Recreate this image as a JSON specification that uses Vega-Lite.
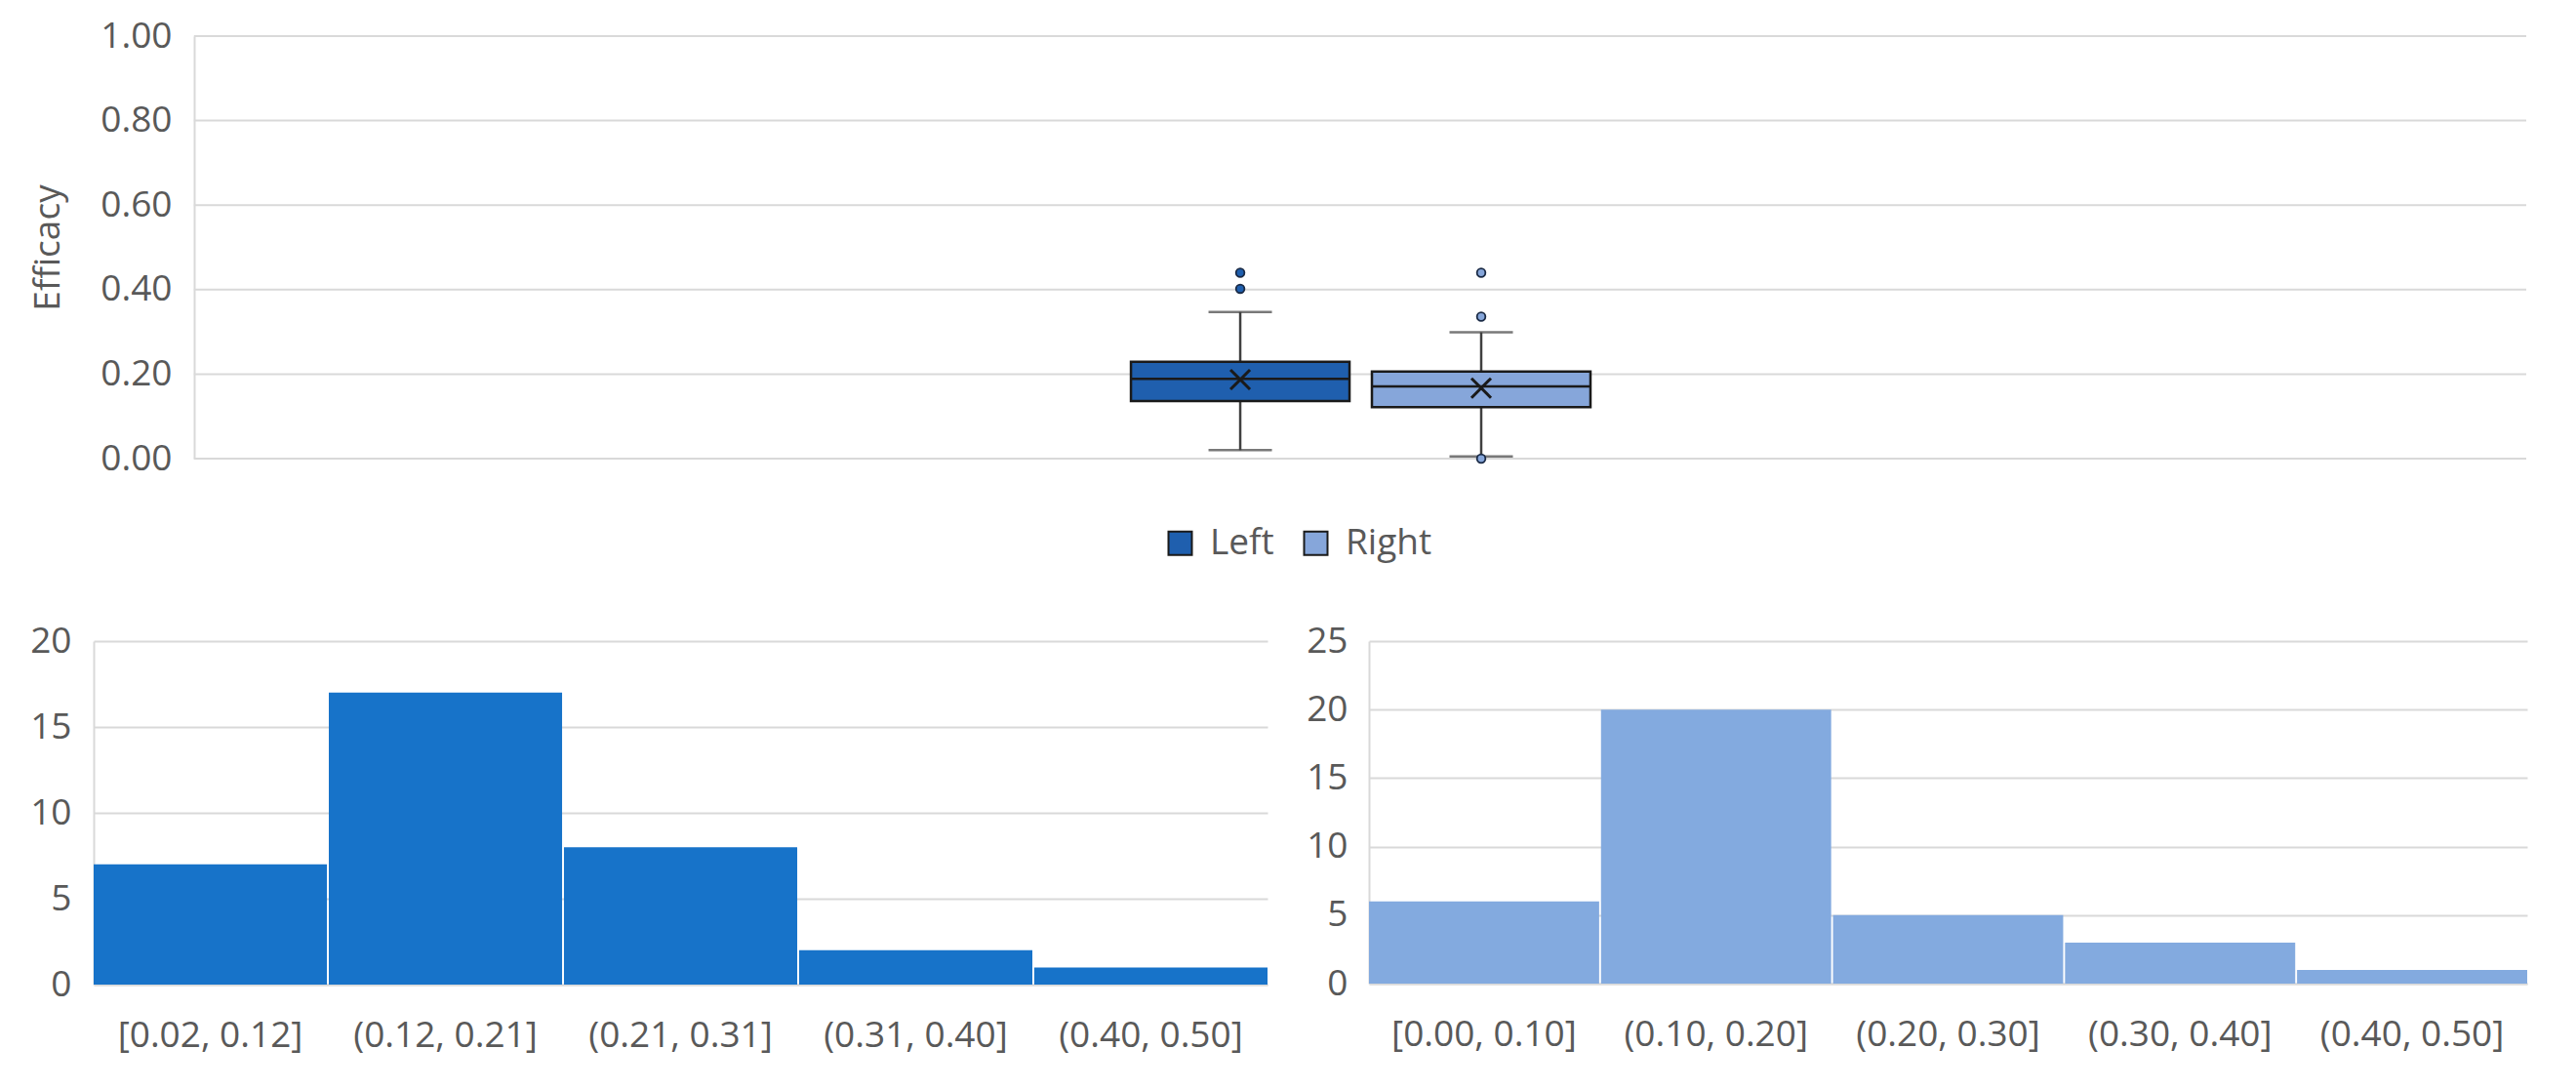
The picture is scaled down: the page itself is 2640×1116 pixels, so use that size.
{
  "$schema": "https://vega.github.io/schema/vega-lite/v6.json",
  "background": "white",
  "padding": {"left": 30, "top": 18, "right": 52, "bottom": 30},
  "spacing": 150,
  "config": {
    "view": {"stroke": null},
    "font": "Open Sans",
    "axis": {
      "labelFont": "Open Sans",
      "labelFontSize": 37,
      "labelColor": "#595959",
      "labelLimit": 0,
      "titleFont": "Open Sans",
      "titleFontSize": 37,
      "titleColor": "#595959",
      "titleFontWeight": "normal",
      "ticks": false,
      "gridColor": "#d9d9d9",
      "gridWidth": 2,
      "domainColor": "#d9d9d9",
      "domainWidth": 2
    }
  },
  "datasets": {
    "summary": [
      {"group": "Left", "lower": 0.020, "q1": 0.136, "median": 0.189, "q3": 0.229, "upper": 0.347, "mean": 0.187},
      {"group": "Right", "lower": 0.005, "q1": 0.122, "median": 0.171, "q3": 0.206, "upper": 0.299, "mean": 0.167}
    ],
    "outliers": [
      {"group": "Left", "value": 0.440},
      {"group": "Left", "value": 0.402},
      {"group": "Right", "value": 0.440},
      {"group": "Right", "value": 0.336},
      {"group": "Right", "value": 0.000}
    ],
    "gridValues": [
      {"v": 0}, {"v": 0.2}, {"v": 0.4}, {"v": 0.6}, {"v": 0.8}, {"v": 1}
    ],
    "leftHist": [
      {"bin": "[0.02, 0.12]", "count": 7},
      {"bin": "(0.12, 0.21]", "count": 17},
      {"bin": "(0.21, 0.31]", "count": 8},
      {"bin": "(0.31, 0.40]", "count": 2},
      {"bin": "(0.40, 0.50]", "count": 1}
    ],
    "rightHist": [
      {"bin": "[0.00, 0.10]", "count": 6},
      {"bin": "(0.10, 0.20]", "count": 20},
      {"bin": "(0.20, 0.30]", "count": 5},
      {"bin": "(0.30, 0.40]", "count": 3},
      {"bin": "(0.40, 0.50]", "count": 1}
    ]
  },
  "vconcat": [
    {
      "width": 2493,
      "height": 433,
      "resolve": {"scale": {"x": "independent"}},
      "layer": [
        {
          "data": {"name": "gridValues"},
          "mark": {"type": "bar", "fillOpacity": 0, "stroke": "#d9d9d9", "strokeWidth": 2},
          "encoding": {
            "x": {"datum": "grid", "type": "nominal", "scale": {"paddingInner": 0, "paddingOuter": 0.0215, "align": 1}, "axis": null},
            "y": {"field": "v", "type": "quantitative", "title": "Efficacy",
                  "scale": {"domain": [0, 1]},
                  "axis": {"values": [0, 0.2, 0.4, 0.6, 0.8, 1], "format": ".2f", "grid": false, "offset": -103, "labelPadding": 23, "titlePadding": 34}},
            "y2": {"field": "v"}
          }
        },
        {
          "data": {"name": "summary"},
          "encoding": {
            "x": {"datum": "Efficacy", "type": "nominal", "scale": {"paddingInner": 0, "paddingOuter": 1, "align": 0.5313}, "axis": null},
            "xOffset": {"field": "group", "type": "nominal", "scale": {"domain": ["Left", "Right"], "paddingInner": 0.093, "paddingOuter": 0.729}}
          },
          "layer": [
            {
              "mark": {"type": "rule", "color": "#404040", "strokeWidth": 2.5},
              "encoding": {
                "y": {"field": "lower", "type": "quantitative", "title": "Efficacy"},
                "y2": {"field": "q1"}
              }
            },
            {
              "mark": {"type": "rule", "color": "#404040", "strokeWidth": 2.5},
              "encoding": {
                "y": {"field": "q3", "type": "quantitative", "title": "Efficacy"},
                "y2": {"field": "upper"}
              }
            },
            {
              "mark": {"type": "tick", "color": "#404040", "thickness": 2.5, "size": 65, "orient": "horizontal"},
              "encoding": {"y": {"field": "lower", "type": "quantitative", "title": "Efficacy"}}
            },
            {
              "mark": {"type": "tick", "color": "#404040", "thickness": 2.5, "size": 65, "orient": "horizontal"},
              "encoding": {"y": {"field": "upper", "type": "quantitative", "title": "Efficacy"}}
            },
            {
              "mark": {"type": "bar", "stroke": "#1a1a1a", "strokeWidth": 2.5},
              "encoding": {
                "y": {"field": "q1", "type": "quantitative", "title": "Efficacy"},
                "y2": {"field": "q3"},
                "color": {
                  "field": "group", "type": "nominal",
                  "scale": {"domain": ["Left", "Right"], "range": ["#1f5fae", "#86a6da"]},
                  "legend": {
                    "title": null, "orient": "none", "direction": "horizontal",
                    "legendX": 1095, "legendY": 501,
                    "symbolType": "square", "symbolSize": 576,
                    "symbolStrokeColor": "#1a1a1a", "symbolStrokeWidth": 2,
                    "labelFont": "Open Sans", "labelFontSize": 37, "labelColor": "#595959",
                    "columnPadding": 24, "labelOffset": 12, "padding": 0
                  }
                }
              }
            },
            {
              "mark": {"type": "bar", "fillOpacity": 0, "stroke": "#1a1a1a", "strokeWidth": 2.5},
              "encoding": {
                "y": {"field": "median", "type": "quantitative", "title": "Efficacy"},
                "y2": {"field": "median"}
              }
            },
            {
              "mark": {"type": "point", "shape": "M-1,-1L1,1M-1,1L1,-1", "filled": false, "stroke": "#1a1a1a", "strokeWidth": 3, "size": 400, "opacity": 1},
              "encoding": {"y": {"field": "mean", "type": "quantitative", "title": "Efficacy"}}
            }
          ]
        },
        {
          "data": {"name": "outliers"},
          "mark": {"type": "point", "shape": "circle", "filled": true, "stroke": "#1a2a45", "strokeWidth": 1.8, "size": 75, "opacity": 1},
          "encoding": {
            "x": {"datum": "Efficacy", "type": "nominal", "scale": {"paddingInner": 0, "paddingOuter": 1, "align": 0.5313}, "axis": null},
            "xOffset": {"field": "group", "type": "nominal", "scale": {"domain": ["Left", "Right"], "paddingInner": 0.093, "paddingOuter": 0.729}},
            "y": {"field": "value", "type": "quantitative", "title": "Efficacy"},
            "fill": {"field": "group", "type": "nominal", "scale": {"domain": ["Left", "Right"], "range": ["#1f5fae", "#86a6da"]}, "legend": null}
          }
        }
      ]
    },
    {
      "spacing": 39,
      "hconcat": [
        {
          "width": 1203,
          "height": 352,
          "data": {"name": "leftHist"},
          "mark": {"type": "bar", "color": "#1773c9"},
          "encoding": {
            "x": {"field": "bin", "type": "nominal", "sort": null, "scale": {"paddingInner": 0.008, "paddingOuter": 0},
                  "axis": {"title": null, "labelAngle": 0, "labelPadding": 34}},
            "y": {"field": "count", "type": "quantitative", "scale": {"domain": [0, 20]},
                  "axis": {"title": null, "values": [0, 5, 10, 15, 20], "labelPadding": 23}}
          }
        },
        {
          "width": 1187,
          "height": 351,
          "data": {"name": "rightHist"},
          "mark": {"type": "bar", "color": "#83aadf"},
          "encoding": {
            "x": {"field": "bin", "type": "nominal", "sort": null, "scale": {"paddingInner": 0.008, "paddingOuter": 0},
                  "axis": {"title": null, "labelAngle": 0, "labelPadding": 34}},
            "y": {"field": "count", "type": "quantitative", "scale": {"domain": [0, 25]},
                  "axis": {"title": null, "values": [0, 5, 10, 15, 20, 25], "labelPadding": 22}}
          }
        }
      ]
    }
  ]
}
